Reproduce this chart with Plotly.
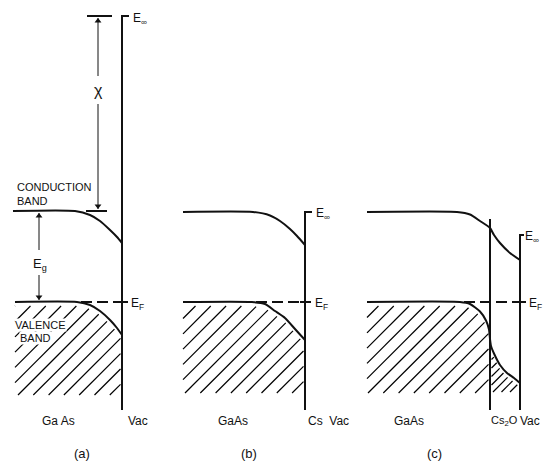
import numpy as np
import plotly.graph_objects as go

# ---------------- data ----------------
# Energy in diagram units (1 unit = 1 px of the drawing, E_F = 0, up = higher energy)
# Depth coordinate in the same units.
panel_labels = ["(a)", "(b)", "(c)"]
bulk_names = ["Ga As", "GaAs", "GaAs"]

# conduction band (a), (b), (c)
cb_a_x = [13, 75, 90, 100, 110, 117, 122]
cb_a_E = [91, 91, 87, 81, 72, 65, 59]
cb_b_x = [183, 253, 270, 280, 290, 297, 305]
cb_b_E = [90, 90, 86.5, 81, 73, 66, 57]
cb_c_x = [367, 457, 470, 480, 490, 494, 500, 510, 520]
cb_c_E = [90, 90, 87.5, 81, 74, 67, 59, 49, 42]

# valence band (a), (b), (c)
vb_a_x = [15, 77, 90, 100, 110, 117, 122]
vb_a_E = [0, 0, -3, -9, -18, -26, -33]
vb_b_x = [183, 252, 265, 275, 285, 295, 305]
vb_b_E = [0, 0, -2, -9, -16, -27, -38]
vb_c_x = [367, 460, 470, 480, 486, 489, 490, 491, 494, 500, 507, 514, 520]
vb_c_E = [0, 0, -2, -9.5, -18.5, -27.5, -37, -44, -51.5, -63, -71, -76, -81]

# vacuum / interface lines
vac_x = [122, 305, 520]
vac_E = [286, 90, 67]          # E_infinity in each panel
cs2o_x = 490
cs2o_top_E = 83
line_bottom_E = -108
fermi_E = 0
bend_start_x = [77, 252, 460]  # where the valence band leaves E_F

# electron affinity and gap markers
chi_x = 98
chi_top_E = 286
chi_bottom_E = 91
gap_x = 39
gap_top_E = 91
gap_bottom_E = 0

hatch_bottom_E = [-93, -91, -91, -90]

BLACK = "#111111"
FONT = "Liberation Sans"

fig = go.Figure()

# ---------------- hatching ----------------
def hatch(xs, Es, xl, xr, Ebot, spacing, x0, gap=4.0):
    grid = np.linspace(xl, xr, 3000)
    top = np.interp(grid, xs, Es) - gap
    hx, hy = [], []
    xb = x0 - spacing * 30
    while xb <= xr:
        k = Ebot - xb
        xs_ = max(xl, xb)
        mask = (grid + k <= top) & (grid >= xs_)
        if mask.any():
            xe = grid[mask].max()
            if xe > xs_:
                hx += [xs_, xe, None]
                hy += [xs_ + k, xe + k, None]
        xb += spacing
    return hx, hy

HX, HY = [], []
for args in [
    (vb_a_x, vb_a_E, 15, 120.5, hatch_bottom_E[0], 15.3, 18),
    (vb_b_x, vb_b_E, 183, 303.5, hatch_bottom_E[1], 15.3, 185),
    (vb_c_x, vb_c_E, 367, 488.5, hatch_bottom_E[2], 15.3, 368),
    (vb_c_x, vb_c_E, 491.5, 518.5, hatch_bottom_E[3], 8.5, 493),
]:
    hx, hy = hatch(*args)
    HX += hx
    HY += hy
fig.add_trace(go.Scatter(x=HX, y=HY, mode="lines",
                         line=dict(color="#000000", width=1.2), hoverinfo="skip"))

# ---------------- bands ----------------
for xs, Es in [(cb_a_x, cb_a_E), (cb_b_x, cb_b_E), (cb_c_x, cb_c_E),
               (vb_a_x, vb_a_E), (vb_b_x, vb_b_E), (vb_c_x, vb_c_E)]:
    fig.add_trace(go.Scatter(x=xs, y=Es, mode="lines",
                             line=dict(color=BLACK, width=2, shape="spline", smoothing=0.6),
                             hoverinfo="skip"))

# ---------------- vacuum lines with E_inf ticks ----------------
tick_len = [7, 7, 4]
for vx, vE, tl in zip(vac_x, vac_E, tick_len):
    fig.add_trace(go.Scatter(x=[vx + tl, vx, vx], y=[vE, vE, line_bottom_E], mode="lines",
                             line=dict(color=BLACK, width=2), hoverinfo="skip"))
fig.add_trace(go.Scatter(x=[cs2o_x, cs2o_x], y=[cs2o_top_E, line_bottom_E], mode="lines",
                         line=dict(color=BLACK, width=2), hoverinfo="skip"))

# ---------------- Fermi level (dashed) ----------------
for bx, vx in zip(bend_start_x, vac_x):
    fig.add_trace(go.Scatter(x=[bx + 4, vx - 5], y=[fermi_E, fermi_E], mode="lines",
                             line=dict(color=BLACK, width=2, dash="11px,5px"), hoverinfo="skip"))
    fig.add_trace(go.Scatter(x=[vx - 5, vx + 6], y=[fermi_E, fermi_E], mode="lines",
                             line=dict(color=BLACK, width=2), hoverinfo="skip"))

# ---------------- chi bars ----------------
fig.add_trace(go.Scatter(x=[87, 112, None, 86, 107], y=[chi_top_E, chi_top_E, None, chi_bottom_E, chi_bottom_E],
                         mode="lines", line=dict(color=BLACK, width=2), hoverinfo="skip"))

# ---------------- arrows (shafts + heads) ----------------
fig.add_trace(go.Scatter(
    x=[chi_x, chi_x, None, chi_x, chi_x, None, gap_x, gap_x, None, gap_x, gap_x],
    y=[chi_top_E - 2, 226, None, 198, chi_bottom_E + 2, None, gap_top_E - 2, 52, None, 27, gap_bottom_E + 2],
    mode="lines", line=dict(color=BLACK, width=1), hoverinfo="skip"))
fig.add_trace(go.Scatter(x=[chi_x, gap_x], y=[chi_top_E - 5, gap_top_E - 5], mode="markers",
                         marker=dict(symbol="triangle-up", size=6, color=BLACK, line=dict(width=0)),
                         hoverinfo="skip"))
fig.add_trace(go.Scatter(x=[chi_x, gap_x], y=[chi_bottom_E + 5, gap_bottom_E + 5], mode="markers",
                         marker=dict(symbol="triangle-down", size=6, color=BLACK, line=dict(width=0)),
                         hoverinfo="skip"))

# ---------------- text ----------------
def label(x, E, text, size=12, xanchor="center", bg=None, align="left"):
    fig.add_annotation(x=x, y=E, xref="x", yref="y", text=text, showarrow=False,
                       xanchor=xanchor, yanchor="middle", align=align,
                       font=dict(family=FONT, size=size, color=BLACK),
                       bgcolor=bg if bg else "rgba(0,0,0,0)", borderpad=0)

label(98, 212, "χ", size=16)
label(40, 38, "E<sub>g</sub>", size=13)
label(16, 108, "CONDUCTION<br>BAND", size=11, xanchor="left")
label(14, -23, "VALENCE", size=11, xanchor="left", bg="white")
label(19, -36, "BAND", size=11, xanchor="left", bg="white")

# E_inf / E_F labels
label(132, 283, "E<sub>∞</sub>", size=12, xanchor="left")
label(315, 88, "E<sub>∞</sub>", size=12, xanchor="left")
label(524, 65, "E<sub>∞</sub>", size=12, xanchor="left")
for vx, off in zip(vac_x, [8, 9, 8]):
    label(vx + off, -2, "E<sub>F</sub>", size=12, xanchor="left")

# bottom labels
bulk_x = [58, 233, 409]
for bx, name in zip(bulk_x, bulk_names):
    label(bx, -119, name, size=12)
label(138, -119, "Vac", size=12)
label(307, -119, "Cs  Vac", size=12, xanchor="left")
label(490, -119, "Cs<sub>2</sub>O", size=11, xanchor="left")
label(519, -119, "Vac", size=12, xanchor="left")

for px, name in zip([82, 249, 434], panel_labels):
    label(px, -151, name, size=13)

fig.update_layout(
    width=549, height=463,
    margin=dict(l=0, r=0, t=0, b=0),
    paper_bgcolor="white", plot_bgcolor="white",
    showlegend=False,
    xaxis=dict(range=[0, 549], visible=False, fixedrange=True),
    yaxis=dict(range=[-161, 302], visible=False, fixedrange=True),
)

fig.write_html("out.html", config={"displayModeBar": False},
               post_script="document.body.style.margin='0px';")
